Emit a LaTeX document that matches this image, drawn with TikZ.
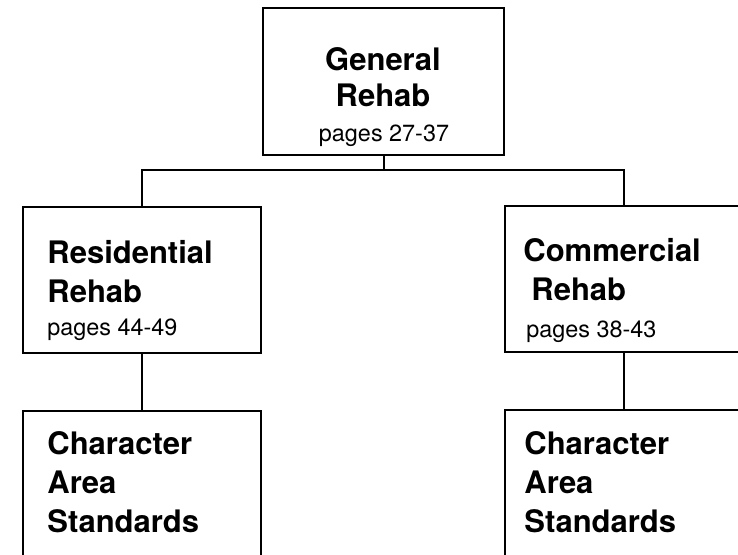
\documentclass[tikz,border=0pt]{standalone}
\usepackage{fontspec}
\setmainfont{TeX Gyre Heros}
\begin{document}
\begin{tikzpicture}[
    x=0.5pt, y=-0.5pt,
    box/.style={draw, line width=1pt, rectangle, inner sep=0pt, anchor=north west},
    titel/.style={font=\bfseries\fontsize{15.5}{19.5}\selectfont, align=left, inner sep=0pt, anchor=north west},
    seiten/.style={font=\fontsize{11.7}{14}\selectfont, inner sep=0pt, anchor=base west},
    linie/.style={line width=1pt}
]

% --- Bildrahmen 738 x 554 px (1 px = 0.5pt, y nach unten) ---
\useasboundingbox (0,0) rectangle (738,554);
\clip (0,0) rectangle (738,554);

% --- Kaesten: oben, Mitte links/rechts, unten links/rechts (unten angeschnitten) ---
\node[box, minimum width=120.5pt, minimum height=73.5pt] (gen)   at (262,7)   {};
\node[box, minimum width=119pt,   minimum height=73pt]   (res)   at (22,206)  {};
\node[box, minimum width=119pt,   minimum height=73pt]   (com)   at (504,205) {};
\node[box, minimum width=119pt,   minimum height=85pt]   (resCA) at (22,410)  {};
\node[box, minimum width=119pt,   minimum height=85pt]   (comCA) at (504,409) {};

% --- Verbindungslinien ---
\draw[linie] (gen.south) -- ++(0,14) coordinate (knoten);
\draw[linie] (res.north) |- (knoten) -| (com.north);
\draw[linie] (res.south) -- (resCA.north);
\draw[linie] (com.south) -- (comCA.north);

% --- Texte oben ---
\node[titel, anchor=north, align=center, font=\bfseries\fontsize{15.5}{18}\selectfont] (genT) at (383,47) {General\\Rehab};
\node[seiten, anchor=base] (genP) at (384,141) {pages 27-37};

% --- Texte Mitte ---
\node[titel]  (resT) at (47,240)  {Residential\\Rehab};
\node[seiten] (resP) at (47,335)  {pages 44-49};
\node[titel]  (comT) at (523,238) {Commercial\\\hspace{4pt}Rehab};
\node[seiten] (comP) at (526,337) {pages 38-43};

% --- Texte unten ---
\node[titel] (resCAT) at (47,431)  {Character\\Area\\Standards};
\node[titel] (comCAT) at (524,431) {Character\\Area\\Standards};

\end{tikzpicture}
\end{document}
